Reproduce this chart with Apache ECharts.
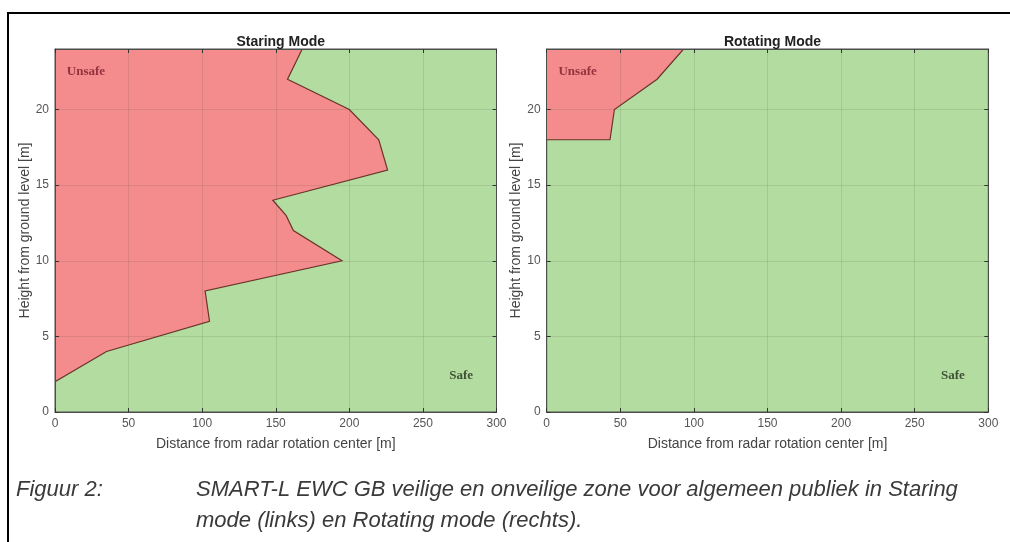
<!DOCTYPE html>
<html>
<head>
<meta charset="utf-8">
<script src="https://cdn.jsdelivr.net/npm/echarts@6/dist/echarts.min.js"></script>
<style>
html,body{margin:0;padding:0;background:#fff;}
#c{width:1010px;height:542px;}
</style>
</head>
<body>
<div id="c"></div>
<script>
// ---- data ----
const panelTitles = ['Staring Mode', 'Rotating Mode'];
const xTicks = [0, 50, 100, 150, 200, 250, 300];
const yTicks = [0, 5, 10, 15, 20];
const xMax = 300;
const yMax = 24;
// Unsafe zone outline (distance [m], height [m]); first point is the top-left corner
const staringDist   = [0, 168, 158, 200, 220, 226, 148, 157, 162, 195, 102, 105, 35, 0];
const staringHeight = [24, 24,  22,  20,  18,  16,  14,  13,  12,  10,  8,   6,   4,  2];
const rotatingDist   = [0, 93, 75, 46, 43, 0];
const rotatingHeight = [24, 24, 22, 20, 18, 18];
const zoneLabels = ['Unsafe', 'Safe'];
const unsafeLabelPos = [8, 22.5];
const safeLabelPos = [276, 2.4];
const xName = 'Distance from radar rotation center [m]';
const yName = 'Height from ground level [m]';
const captionLabel = 'Figuur 2:';
const captionLines = ['SMART-L EWC GB veilige en onveilige zone voor algemeen publiek in Staring',
                      'mode (links) en Rotating mode (rechts).'];

const RED = '#f48b8d';
const GREEN = '#b3dca1';

const chart = echarts.init(document.getElementById('c'), null, {renderer: 'canvas'});

const grids = [
  {left: 55, top: 49, width: 441.5, height: 363},
  {left: 546.7, top: 49, width: 441.6, height: 363}
];

function mkX(gi, top) {
  return {
    type: 'value', gridIndex: gi, min: 0, max: xMax, interval: 50,
    position: top ? 'top' : 'bottom', z: 5,
    name: top ? '' : xName, nameLocation: 'middle', nameGap: 25,
    nameTextStyle: {fontFamily: 'Liberation Sans', fontSize: 14, color: '#444'},
    axisLine: {show: true, onZero: false, lineStyle: {color: '#4d4d4d', width: 1}},
    axisTick: {show: true, inside: true, length: 4, lineStyle: {color: '#333'}},
    axisLabel: {show: !top, margin: 6, fontFamily: 'Liberation Sans', fontSize: 12, color: '#555'},
    splitLine: {show: !top, lineStyle: {color: 'rgba(60,70,40,0.13)', width: 1}}
  };
}
function mkY(gi, right) {
  return {
    type: 'value', gridIndex: gi, min: 0, max: yMax, interval: 5,
    position: right ? 'right' : 'left', z: 5,
    name: right ? '' : yName, nameLocation: 'middle', nameGap: 22,
    nameTextStyle: {fontFamily: 'Liberation Sans', fontSize: 14, color: '#444'},
    axisLine: {show: true, onZero: false, lineStyle: {color: '#4d4d4d', width: 1}},
    axisTick: {show: true, inside: true, length: 4, lineStyle: {color: '#333'},
      customValues: yTicks},
    axisLabel: {show: !right, margin: 6, fontFamily: 'Liberation Sans', fontSize: 12, color: '#555',
      customValues: yTicks},
    splitLine: {show: !right, lineStyle: {color: 'rgba(60,70,40,0.13)', width: 1}}
  };
}

function zoneSeries(gi, dist, height) {
  const pts = dist.map((d, i) => [d, height[i]]);
  return {
    type: 'custom', xAxisIndex: gi * 2, yAxisIndex: gi * 2, z: 2, clip: true,
    data: pts,
    renderItem: function (params, api) {
      if (params.dataIndex !== 0) return;
      const coords = pts.map(p => api.coord(p));
      return {
        type: 'group',
        children: [
          {type: 'polygon', shape: {points: coords}, style: {fill: RED, stroke: null}},
          {type: 'polyline', shape: {points: coords.slice(1)},
           style: {fill: null, stroke: '#6a3428', lineWidth: 1.2}}
        ]
      };
    }
  };
}

function labelSeries(gi) {
  return {
    type: 'scatter', xAxisIndex: gi * 2, yAxisIndex: gi * 2, z: 6,
    symbolSize: 0, silent: true,
    data: [
      {value: unsafeLabelPos, label: {show: true, formatter: zoneLabels[0], position: 'right', distance: 0,
        fontFamily: 'Liberation Serif', fontWeight: 'bold', fontSize: 13, color: '#7a1c2a'}},
      {value: safeLabelPos, label: {show: true, formatter: zoneLabels[1], position: 'inside',
        fontFamily: 'Liberation Serif', fontWeight: 'bold', fontSize: 13, color: '#1e2a18'}}
    ]
  };
}

const option = {
  animation: false,
  backgroundColor: '#fff',
  title: panelTitles.map((t, i) => ({
    text: t, left: grids[i].left + grids[i].width / 2, top: 30, textAlign: 'center',
    textStyle: {fontFamily: 'Liberation Sans', fontWeight: 'bold', fontSize: 14, color: '#222'}
  })),
  grid: grids.map(g => Object.assign({}, g, {
    show: true, backgroundColor: GREEN, borderColor: '#4d4d4d', borderWidth: 1, containLabel: false
  })),
  xAxis: [mkX(0, false), mkX(0, true), mkX(1, false), mkX(1, true)],
  yAxis: [mkY(0, false), mkY(0, true), mkY(1, false), mkY(1, true)],
  series: [
    zoneSeries(0, staringDist, staringHeight),
    zoneSeries(1, rotatingDist, rotatingHeight),
    labelSeries(0),
    labelSeries(1)
  ],
  graphic: [
    {type: 'line', shape: {x1: 8, y1: 13, x2: 1010, y2: 13}, style: {stroke: '#000', lineWidth: 2}},
    {type: 'line', shape: {x1: 8, y1: 12, x2: 8, y2: 542}, style: {stroke: '#000', lineWidth: 2}},
    {type: 'text', left: 16, top: 479, style: {text: captionLabel, font: 'italic 22px "Liberation Sans"', fill: '#3a3a3a'}},
    {type: 'text', left: 196, top: 479, style: {text: captionLines[0], font: 'italic 22px "Liberation Sans"', fill: '#3a3a3a'}},
    {type: 'text', left: 196, top: 510, style: {text: captionLines[1], font: 'italic 22px "Liberation Sans"', fill: '#3a3a3a'}}
  ]
};
chart.setOption(option);
</script>
</body>
</html>
